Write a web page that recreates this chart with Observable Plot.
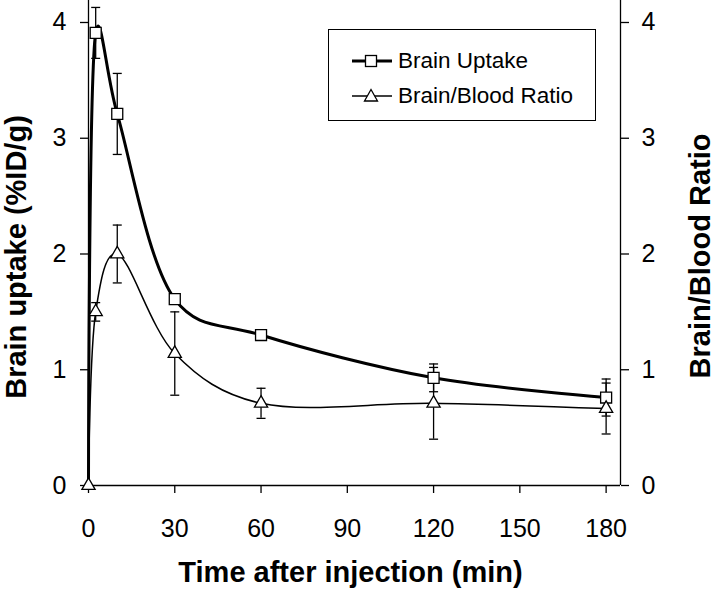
<!DOCTYPE html>
<html><head><meta charset="utf-8">
<script src="https://cdn.jsdelivr.net/npm/d3@7"></script>
<script src="https://cdn.jsdelivr.net/npm/@observablehq/plot@0.6"></script>
<style>
body{margin:0;background:#fff;}
#wrap{position:relative;width:720px;height:603px;}
#legend{position:absolute;left:328px;top:29px;width:266px;height:90px;border:1.5px solid #000;background:#fff;font-family:'Liberation Sans',Arial,sans-serif;font-size:22.5px;color:#000;}
.row{position:absolute;left:22px;height:30px;display:flex;align-items:center;white-space:nowrap;}
.row svg{margin-right:5px;}
</style></head><body><div id="wrap"></div>
<script>
// Data
const times    = [0, 2.5, 10, 30, 60, 120, 180];
const uptake   = [0, 3.91, 3.21, 1.61, 1.30, 0.93, 0.76];
const uptakeSD = [0, 0.22, 0.35, 0.04, 0.04, 0.12, 0.16];
const ratio    = [0, 1.50, 2.00, 1.14, 0.71, 0.71, 0.665];
const ratioSD  = [0, 0.08, 0.25, 0.36, 0.13, 0.31, 0.22];
const xTicks = [0, 30, 60, 90, 120, 150, 180];
const yTicks = [0, 1, 2, 3, 4];
const xDomain = [0, 185];
const yDomain = [0, 4.19];
const seriesNames = ["Brain Uptake", "Brain/Blood Ratio"];
const xTitle = "Time after injection (min)";
const yTitleLeft = "Brain uptake (%ID/g)";
const yTitleRight = "Brain/Blood Ratio";

const rows = times.map((t, i) => ({t, u: uptake[i], us: uptakeSD[i], r: ratio[i], rs: ratioSD[i]}));

const hline = {draw(ctx, size) { const r = Math.sqrt(size / Math.PI); ctx.moveTo(-r, 0); ctx.lineTo(r, 0); }};
const smooth = d3.curveCatmullRom.alpha(0.2);

const font = "'Liberation Sans', Arial, sans-serif";
const chart = Plot.plot({
  width: 720, height: 603,
  marginLeft: 88, marginRight: 100, marginTop: 0, marginBottom: 118,
  style: {fontFamily: font, fontSize: "25px", background: "#fff", color: "#000", overflow: "visible"},
  x: {domain: xDomain},
  y: {domain: yDomain},
  marks: [
    Plot.ruleY([0], {stroke: "#000", strokeWidth: 1.3}),
    Plot.ruleX(xDomain, {stroke: "#000", strokeWidth: 1.3}),
    Plot.axisX({ticks: xTicks, tickSize: 8, tickPadding: 26, label: null, tickFormat: d => d, stroke: "#000", strokeWidth: 1.3}),
    Plot.axisY({anchor: "left", ticks: yTicks, tickSize: 8, tickPadding: 14, label: null, tickFormat: d => d, stroke: "#000", strokeWidth: 1.3}),
    Plot.axisY({anchor: "right", ticks: yTicks, tickSize: 8, tickPadding: 13, label: null, tickFormat: d => d, stroke: "#000", strokeWidth: 1.3}),
    // error bars
    Plot.ruleX(rows.filter(d => d.us > 0), {x: "t", y1: d => d.u - d.us, y2: d => d.u + d.us, stroke: "#000", strokeWidth: 1.3}),
    Plot.dot(rows.filter(d => d.us > 0), {x: "t", y: d => d.u + d.us, symbol: hline, r: 4.5, stroke: "#000", strokeWidth: 1.3}),
    Plot.dot(rows.filter(d => d.us > 0), {x: "t", y: d => d.u - d.us, symbol: hline, r: 4.5, stroke: "#000", strokeWidth: 1.3}),
    Plot.ruleX(rows.filter(d => d.rs > 0), {x: "t", y1: d => d.r - d.rs, y2: d => d.r + d.rs, stroke: "#000", strokeWidth: 1.3}),
    Plot.dot(rows.filter(d => d.rs > 0), {x: "t", y: d => d.r + d.rs, symbol: hline, r: 4.5, stroke: "#000", strokeWidth: 1.3}),
    Plot.dot(rows.filter(d => d.rs > 0), {x: "t", y: d => d.r - d.rs, symbol: hline, r: 4.5, stroke: "#000", strokeWidth: 1.3}),
    // lines
    Plot.line(rows, {x: "t", y: "u", curve: smooth, stroke: "#000", strokeWidth: 3}),
    Plot.line(rows, {x: "t", y: "r", curve: smooth, stroke: "#000", strokeWidth: 1.5}),
    // markers
    Plot.dot(rows.filter(d => d.t > 0), {x: "t", y: "u", symbol: "square", r: 6.2, fill: "#fff", stroke: "#000", strokeWidth: 1.3}),
    Plot.dot(rows, {x: "t", y: "r", symbol: "triangle", r: 4.9, fill: "#fff", stroke: "#000", strokeWidth: 1.3}),
    // titles
    Plot.text([xTitle], {frameAnchor: "bottom", textAnchor: "middle", text: d => d, dx: -4, dy: 96, fontSize: 29, fontWeight: "bold", fill: "#000"}),
    Plot.text([yTitleLeft], {frameAnchor: "left", textAnchor: "middle", text: d => d, rotate: -90, dx: -72, dy: 14, fontSize: 29, fontWeight: "bold", fill: "#000"}),
    Plot.text([yTitleRight], {frameAnchor: "right", textAnchor: "middle", text: d => d, rotate: -90, dx: 80, dy: 13, fontSize: 29, fontWeight: "bold", fill: "#000"})
  ]
});
const wrap = document.getElementById("wrap");
wrap.appendChild(chart);

// legend
const legend = document.createElement("div");
legend.id = "legend";
const sq = '<rect x="14.5" y="9.5" width="11" height="11" fill="#fff" stroke="#000" stroke-width="1.3"/>';
const tri = '<path d="M20,8.5 L26.5,20 L13.5,20 Z" fill="#fff" stroke="#000" stroke-width="1.3"/>';
const samples = [
  '<svg width="42" height="30"><line x1="1" x2="41" y1="15" y2="15" stroke="#000" stroke-width="3"/>' + sq + '</svg>',
  '<svg width="42" height="30"><line x1="1" x2="41" y1="15" y2="15" stroke="#000" stroke-width="1.5"/>' + tri + '</svg>'
];
const tops = [16, 51];
seriesNames.forEach((name, i) => {
  const row = document.createElement("div");
  row.className = "row";
  row.style.top = tops[i] + "px";
  row.innerHTML = samples[i] + '<span>' + name + '</span>';
  legend.appendChild(row);
});
wrap.appendChild(legend);
</script>
</body></html>
